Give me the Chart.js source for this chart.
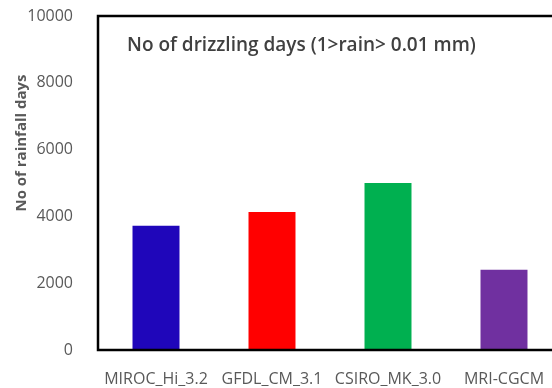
<!DOCTYPE html>
<html>
<head>
<meta charset="utf-8">
<script src="https://cdn.jsdelivr.net/npm/chart.js@4"></script>
<style>
html,body{margin:0;padding:0;background:#fff;overflow:hidden;}
#wrap{width:552px;height:388px;overflow:hidden;position:relative;}
canvas{position:absolute;left:0;top:0;}
</style>
</head>
<body>
<div id="wrap"><canvas id="c" width="570" height="388" style="width:570px;height:388px"></canvas></div>
<script>
const categories = ["MIROC_Hi_3.2", "GFDL_CM_3.1", "CSIRO_MK_3.0", "MRI-CGCM"];
const values = [3720, 4130, 5000, 2400];
const barColors = ["#1F06BA", "#FF0000", "#00B050", "#7030A0"];
const yTicks = [0, 2000, 4000, 6000, 8000, 10000];
const titleText = "No of drizzling days (1>rain> 0.01 mm)";
const yTitle = "No of rainfall days";

const FONT = "'Open Sans', 'Noto Sans', sans-serif";

const framePlugin = {
  id: 'frame',
  afterDraw(chart) {
    const {ctx, chartArea: a} = chart;
    ctx.save();
    ctx.strokeStyle = '#000';
    ctx.lineWidth = 2.5;
    ctx.strokeRect(a.left, a.top, a.right - a.left, a.bottom - a.top);
    ctx.fillStyle = '#404040';
    ctx.font = "600 19px " + FONT;
    ctx.textAlign = 'left';
    ctx.textBaseline = 'middle';
    ctx.fillText(titleText, 127, 46);
    ctx.fillStyle = '#595959';
    ctx.font = "bold 15px " + FONT;
    ctx.translate(22, 143);
    ctx.rotate(-Math.PI / 2);
    ctx.textAlign = 'center';
    ctx.fillText(yTitle, 0, 0);
    ctx.restore();
  }
};

new Chart(document.getElementById('c'), {
  type: 'bar',
  data: {
    labels: categories,
    datasets: [{
      data: values,
      backgroundColor: barColors,
      borderWidth: 0,
      barPercentage: 0.405,
      categoryPercentage: 1.0
    }]
  },
  options: {
    responsive: false,
    animation: false,
    devicePixelRatio: 1,
    layout: {padding: {left: 0, right: 8, top: 16, bottom: 0}},
    plugins: {legend: {display: false}, tooltip: {enabled: false}},
    scales: {
      x: {
        grid: {display: false},
        border: {display: false},
        ticks: {color: '#595959', font: {family: FONT, size: 16}, padding: 12, maxRotation: 0, autoSkip: false},
        afterFit(s) { s.height = 38; s.paddingLeft = 0; s.paddingRight = 0; }
      },
      y: {
        min: 0, max: 10000,
        grid: {display: false},
        border: {display: false},
        afterBuildTicks(s) { s.ticks = yTicks.map(v => ({value: v})); },
        ticks: {color: '#595959', font: {family: FONT, size: 16}, padding: 17, callback: v => String(v)},
        afterFit(s) { s.width = 98; s.paddingTop = 0; s.paddingBottom = 0; }
      }
    }
  },
  plugins: [framePlugin]
});
</script>
</body>
</html>
